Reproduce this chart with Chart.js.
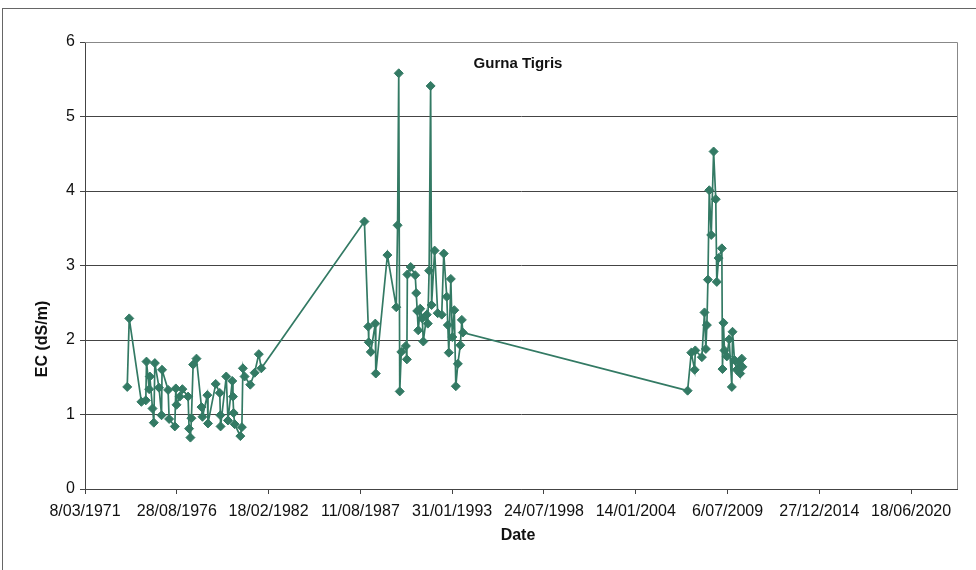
<!DOCTYPE html>
<html>
<head>
<meta charset="utf-8">
<script src="https://cdn.jsdelivr.net/npm/chart.js@4.4.1/dist/chart.umd.min.js"></script>
<style>
  body { margin: 0; background: #fff; }
  #frame { position: absolute; left: 2px; top: 8px; width: 1000px; height: 600px; border: 1px solid #666; }
  #wrap { position: absolute; left: 0; top: 0; width: 976px; height: 570px; }
</style>
</head>
<body>
<div id="frame"></div>
<div id="wrap"><canvas id="ecChart" width="976" height="570"></canvas></div>
<script>
// Fechas de muestreo (tres campañas) y conductividad EC en dS/m
const fechas1 = ["1973-09-13", "1973-10-27", "1974-07-19", "1974-10-23", "1974-11-07", "1975-01-04", "1975-01-19", "1975-03-18", "1975-04-16", "1975-05-08", "1975-08-07", "1975-10-01", "1975-10-12", "1976-02-21", "1976-03-14", "1976-07-16", "1976-08-07", "1976-08-22", "1976-10-30", "1976-12-28", "1977-05-01", "1977-05-23", "1977-06-21", "1977-07-13", "1977-08-19", "1977-10-31", "1978-02-17", "1978-03-11", "1978-06-25", "1978-07-09", "1978-12-24", "1979-03-22", "1979-04-05", "1979-04-09", "1979-08-11", "1979-09-17", "1979-12-20", "1980-01-04", "1980-01-19", "1980-02-10", "1980-06-13", "1980-07-16", "1980-08-07", "1980-09-13", "1981-01-15", "1981-04-20", "1981-07-20", "1981-09-13"];
const ec1 = [1.37, 2.29, 1.17, 1.19, 1.71, 1.34, 1.51, 1.08, 0.89, 1.69, 1.36, 0.99, 1.60, 1.33, 0.94, 0.84, 1.35, 1.13, 1.24, 1.34, 1.24, 0.81, 0.69, 0.95, 1.67, 1.75, 1.10, 0.97, 1.26, 0.88, 1.41, 1.29, 0.99, 0.84, 1.51, 0.92, 1.45, 1.24, 1.02, 0.87, 0.71, 0.83, 1.62, 1.51, 1.40, 1.56, 1.81, 1.62];

const fechas2 = ["1987-11-07", "1988-01-30", "1988-02-10", "1988-03-25", "1988-07-01", "1988-07-12", "1989-03-22", "1989-10-01", "1989-10-30", "1989-11-24", "1989-12-16", "1990-01-19", "1990-04-28", "1990-05-20", "1990-05-31", "1990-08-11", "1990-11-18", "1990-12-10", "1991-01-01", "1991-01-23", "1991-03-08", "1991-04-21", "1991-05-13", "1991-07-28", "1991-08-19", "1991-09-17", "1991-10-20", "1991-11-10", "1992-01-15", "1992-03-22", "1992-06-18", "1992-08-01", "1992-10-06", "1992-10-28", "1992-11-19", "1993-01-02", "1993-02-04", "1993-03-19", "1993-04-21", "1993-06-04", "1993-07-28", "1993-08-30", "1993-09-21"];
const ec2 = [3.59, 2.18, 1.97, 1.84, 2.22, 1.55, 3.14, 2.44, 3.54, 5.58, 1.31, 1.84, 1.92, 1.74, 2.88, 2.98, 2.87, 2.63, 2.39, 2.13, 2.42, 2.29, 1.98, 2.34, 2.22, 2.93, 5.41, 2.47, 3.20, 2.36, 2.34, 3.16, 2.58, 2.20, 1.83, 2.82, 2.04, 2.40, 1.38, 1.68, 1.93, 2.27, 2.10];

const fechas3 = ["2007-02-17", "2007-05-08", "2007-07-20", "2007-08-04", "2007-12-25", "2008-02-20", "2008-03-21", "2008-04-12", "2008-05-05", "2008-06-03", "2008-07-16", "2008-09-06", "2008-10-23", "2008-11-14", "2008-12-24", "2009-03-04", "2009-03-18", "2009-04-08", "2009-04-30", "2009-06-20", "2009-08-11", "2009-10-08", "2009-10-23", "2009-12-05", "2010-01-22", "2010-03-03", "2010-04-08", "2010-05-12", "2010-05-26"];
const ec3 = [1.32, 1.83, 1.60, 1.86, 1.77, 2.37, 1.88, 2.20, 2.81, 4.01, 3.41, 4.53, 3.89, 2.78, 3.10, 3.23, 1.61, 2.23, 1.86, 1.78, 2.01, 1.37, 2.11, 1.73, 1.60, 1.70, 1.55, 1.75, 1.64];

// Eje X en números de serie de Excel (8/03/1971 = 26000), marcas cada 2000 días
const ejeXMin = 26000;
const ejeXMax = 45000;
const marcasX = [26000, 28000, 30000, 32000, 34000, 36000, 38000, 40000, 42000, 44000];
const ejeYMax = 6;

const EXCEL_EPOCH = Date.UTC(1899, 11, 30);

function toSerial(iso) {
    return (Date.parse(iso + "T00:00:00Z") - EXCEL_EPOCH) / 86400000;
}

function formatSerial(serial) {
    const d = new Date(EXCEL_EPOCH + serial * 86400000);
    const day = d.getUTCDate();
    const month = (d.getUTCMonth() + 1).toString().padStart(2, "0");
    return `${day}/${month}/${d.getUTCFullYear()}`;
}

const fechas = fechas1.concat(fechas2, fechas3);
const ec = ec1.concat(ec2, ec3);
const puntos = fechas.map((f, i) => ({ x: toSerial(f), y: ec[i] }));

const fuente = "'Liberation Sans', Arial, Helvetica, sans-serif";
const verde = "#337a64";

// Marco del área de trazado, título interior y títulos de ejes
const plotDecor = {
    id: "plotDecor",
    beforeDatasetsDraw(chart) {
        const { ctx, chartArea: a } = chart;
        ctx.save();
        ctx.strokeStyle = "#888";
        ctx.lineWidth = 1;
        ctx.beginPath();
        ctx.moveTo(a.left, a.top + 0.5);
        ctx.lineTo(a.right + 0.5, a.top + 0.5);
        ctx.lineTo(a.right + 0.5, a.bottom);
        ctx.stroke();
        ctx.restore();
    },
    afterDraw(chart) {
        const { ctx, chartArea: a } = chart;
        ctx.save();
        ctx.fillStyle = "#111";
        ctx.textAlign = "center";
        ctx.textBaseline = "middle";
        ctx.font = "bold 15px " + fuente;
        ctx.fillText("Gurna Tigris", 518, a.top + 22);
        ctx.font = "bold 16px " + fuente;
        ctx.fillText("Date", 518, 536);
        ctx.translate(43, 339);
        ctx.rotate(-Math.PI / 2);
        ctx.fillText("EC (dS/m)", 0, 0);
        ctx.restore();
    },
};

const ctx = document.getElementById("ecChart").getContext("2d");
new Chart(ctx, {
    type: "line",
    data: {
        datasets: [
            {
                label: "EC",
                data: puntos,
                borderColor: verde,
                backgroundColor: verde,
                borderWidth: 1.7,
                tension: 0,
                pointStyle: "rectRot",
                pointRadius: 4.5,
                pointBorderWidth: 1,
                pointBorderColor: verde,
                pointBackgroundColor: verde,
            },
        ],
    },
    options: {
        responsive: false,
        animation: false,
        layout: { padding: { left: 0, top: 42, right: 19, bottom: 0 } },
        scales: {
            x: {
                type: "linear",
                min: ejeXMin,
                max: ejeXMax,
                afterBuildTicks(scale) {
                    scale.ticks = marcasX.map((v) => ({ value: v }));
                },
                grid: {
                    drawOnChartArea: false,
                    drawTicks: true,
                    tickLength: 5,
                    color: "#444",
                },
                border: { color: "#444", width: 1 },
                ticks: {
                    autoSkip: false,
                    maxRotation: 0,
                    padding: 8,
                    color: "#111",
                    font: { family: fuente, size: 16 },
                    callback: (v) => formatSerial(v),
                },
                afterFit(scale) {
                    scale.height = 81;
                },
            },
            y: {
                min: 0,
                max: ejeYMax,
                grid: {
                    color: "#444",
                    tickLength: 5,
                },
                border: { color: "#444", width: 1 },
                ticks: {
                    stepSize: 1,
                    padding: 5,
                    color: "#111",
                    font: { family: fuente, size: 16 },
                },
                afterFit(scale) {
                    scale.width = 85;
                },
            },
        },
        plugins: {
            legend: { display: false },
            tooltip: { enabled: false },
        },
    },
    plugins: [plotDecor],
});
</script>
</body>
</html>
